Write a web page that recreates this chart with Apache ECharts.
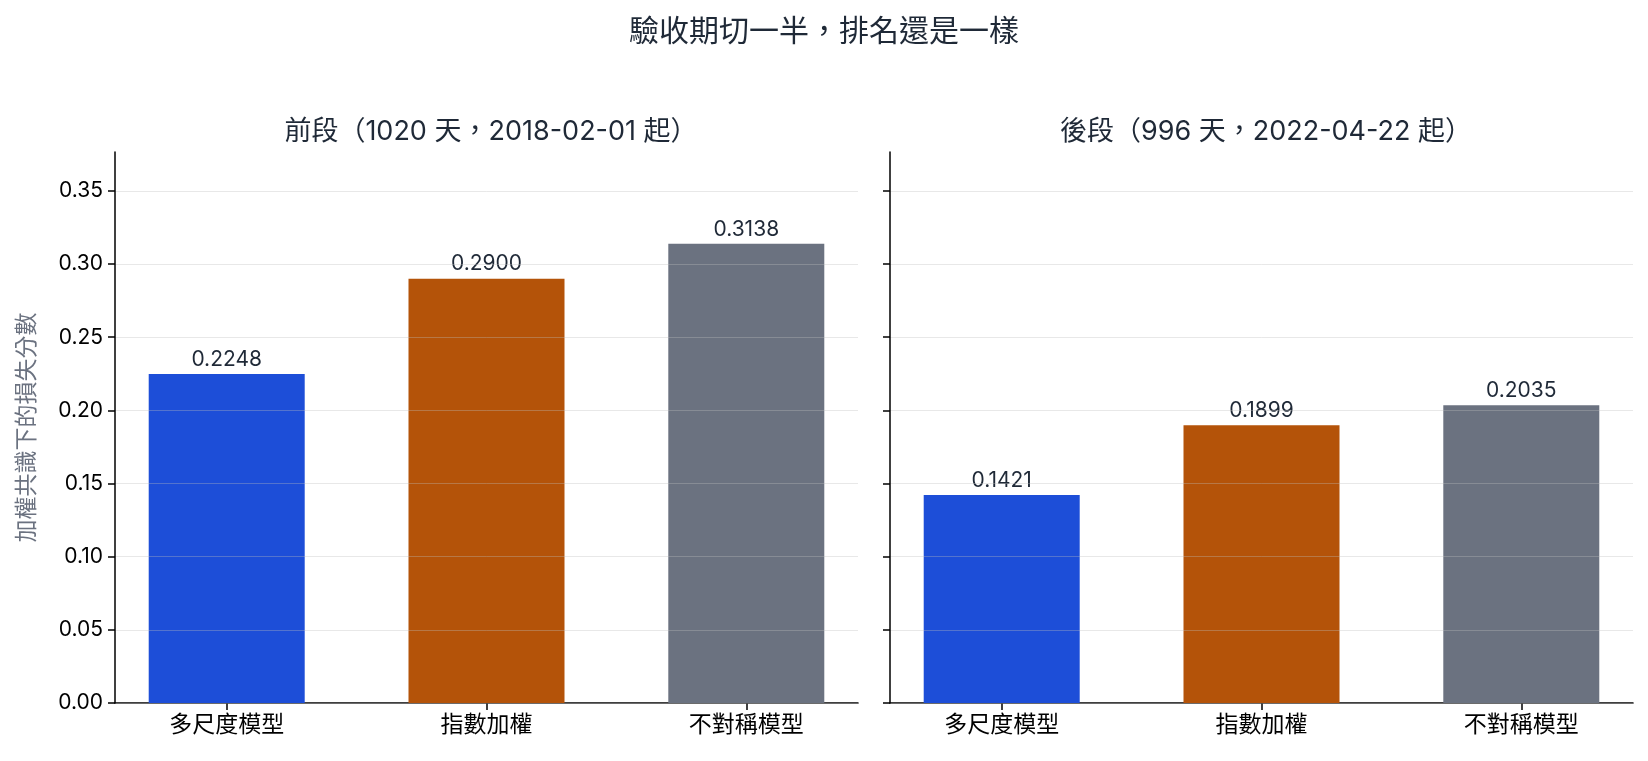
<!DOCTYPE html>
<html>
<head>
<meta charset="utf-8">
<script src="https://cdn.jsdelivr.net/npm/echarts@6/dist/echarts.min.js"></script>
<style>
  html, body { margin: 0; padding: 0; background: #fff; }
  #chart { width: 1648px; height: 761px; }
</style>
</head>
<body>
<div id="chart"></div>
<script>
var categories = ["多尺度模型", "指數加權", "不對稱模型"];
var frontVals = [0.2248, 0.2900, 0.3138];
var backVals = [0.1421, 0.1899, 0.2035];
var barColors = ["#1d4ed8", "#b45309", "#6b7280"];
var yTicks = [0, 0.05, 0.1, 0.15, 0.2, 0.25, 0.3, 0.35];

var FONT = "Inter, 'Noto Sans CJK TC', sans-serif";
var TEXT = "#1f2937";

var chart = echarts.init(document.getElementById("chart"));

function barData(vals) {
  return vals.map(function (v, i) {
    return { value: [i, v], itemStyle: { color: barColors[i] } };
  });
}

function xAxisOf(idx) {
  return {
    type: "value",
    gridIndex: idx,
    min: -0.43,
    max: 2.43,
    splitLine: { show: false },
    axisLine: { onZero: false, lineStyle: { color: "#000", width: 1.5 } },
    axisTick: {
      customValues: [0, 1, 2],
      length: 7,
      lineStyle: { color: "#000", width: 1.5 },
    },
    axisLabel: {
      customValues: [0, 1, 2],
      formatter: function (v) { return categories[Math.round(v)]; },
      color: "#000",
      fontFamily: FONT,
      fontSize: 23,
      margin: 11,
    },
  };
}

function yAxisOf(idx, showLabel) {
  return {
    type: "value",
    gridIndex: idx,
    min: 0,
    max: 0.37656,
    interval: 0.05,
    z: 3,
    name: showLabel ? "加權共識下的損失分數" : "",
    nameLocation: "middle",
    nameGap: 76,
    nameTextStyle: { color: "#6b7280", fontFamily: FONT, fontSize: 23 },
    axisLine: { show: true, onZero: false, lineStyle: { color: "#000", width: 1.5 } },
    axisTick: {
      show: true,
      customValues: yTicks,
      length: 7,
      lineStyle: { color: "#000", width: 1.5 },
    },
    axisLabel: {
      show: showLabel,
      customValues: yTicks,
      formatter: function (v) { return v.toFixed(2); },
      color: "#000",
      fontFamily: FONT,
      fontSize: 21,
      margin: 12,
    },
    splitLine: {
      show: true,
      customValues: yTicks,
      lineStyle: { color: "rgba(190,190,190,0.35)", width: 1 },
    },
  };
}

function seriesOf(idx, vals) {
  return {
    type: "bar",
    xAxisIndex: idx,
    yAxisIndex: idx,
    barWidth: 156,
    data: barData(vals),
    label: {
      show: true,
      position: "top",
      distance: 4,
      color: TEXT,
      fontFamily: FONT,
      fontSize: 21,
      formatter: function (p) { return p.value[1].toFixed(4); },
    },
  };
}

var option = {
  animation: false,
  textStyle: { fontFamily: FONT },
  title: [
    {
      text: "驗收期切一半，排名還是一樣",
      left: "center",
      top: 12,
      textStyle: { color: TEXT, fontFamily: FONT, fontSize: 30, fontWeight: "normal" },
    },
    {
      text: "前段（1020 天，2018-02-01 起）",
      left: 486,
      top: 113,
      textAlign: "center",
      textStyle: { color: TEXT, fontFamily: FONT, fontSize: 27, fontWeight: "normal" },
    },
    {
      text: "後段（996 天，2022-04-22 起）",
      left: 1261,
      top: 113,
      textAlign: "center",
      textStyle: { color: TEXT, fontFamily: FONT, fontSize: 27, fontWeight: "normal" },
    },
  ],
  grid: [
    { left: 115, width: 743, top: 152, height: 551 },
    { left: 890, width: 743, top: 152, height: 551 },
  ],
  xAxis: [xAxisOf(0), xAxisOf(1)],
  yAxis: [yAxisOf(0, true), yAxisOf(1, false)],
  series: [seriesOf(0, frontVals), seriesOf(1, backVals)],
};

chart.setOption(option);
</script>
</body>
</html>
